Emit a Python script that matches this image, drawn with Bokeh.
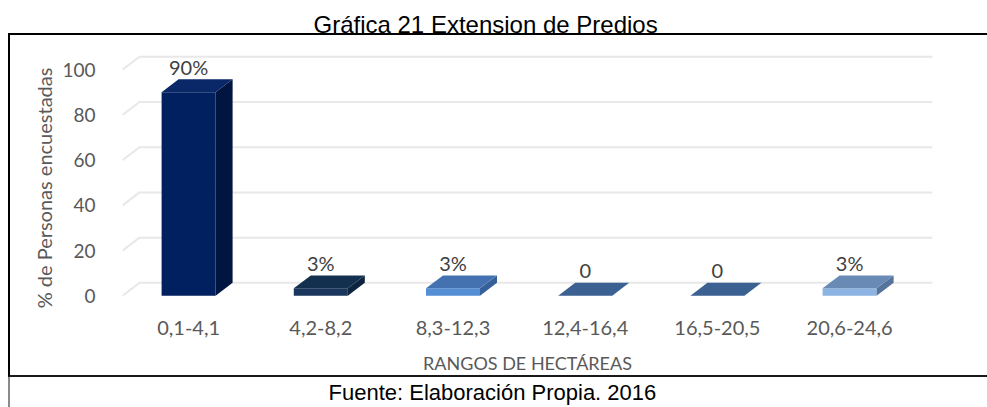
from bokeh.plotting import figure
from bokeh.models import Range1d, FixedTicker, Title, InlineStyleSheet
from bokeh.embed import file_html
from bokeh.resources import INLINE
from bokeh.core.properties import value

# ---- data ----
categories = ["0,1-4,1", "4,2-8,2", "8,3-12,3", "12,4-16,4", "16,5-20,5", "20,6-24,6"]
values = [90, 3.3, 3.3, 0, 0, 3.3]
value_labels = ["90%", "3%", "3%", "0", "0", "3%"]
y_ticks = [0, 20, 40, 60, 80, 100]
front_colors = ["#002060", "#1a365c", "#558ed5", "#3a6191", "#3a6191", "#8db3e2"]
top_colors = ["#0a2767", "#14304f", "#4472b0", "#3a6191", "#3a6191", "#6a8ab6"]
side_colors = ["#001540", "#0e2340", "#36609a", "#3a6191", "#3a6191", "#55739b"]

title_text = "Gráfica 21 Extension de Predios"
footer_text = "Fuente: Elaboración Propia. 2016"
y_title = "% de Personas encuestadas"
x_title = "RANGOS DE HECTÁREAS"

# ---- geometry ----
W, H = 987, 407
ML, MR, MT, MB = 122, 55, 50, 81
frame_w = W - ML - MR
frame_h = H - MT - MB
x0, x1 = -0.5, 5.627
y1 = 108.5
pxy = 253 / 111.5                 # pixels per percentage unit
y0 = y1 - frame_h / pxy
pxx = frame_w / (x1 - x0)
bw = 54 / pxx          # bar front width
dx = 17 / pxx          # depth offset x
dy = 13 / pxy          # depth offset y

p = figure(width=W, height=H, output_backend="svg", toolbar_location=None,
           x_range=Range1d(x0, x1), y_range=Range1d(y0, y1),
           min_border_left=ML, min_border_right=MR, min_border_top=MT, min_border_bottom=MB)
p.outline_line_color = None
p.grid.visible = False
p.background_fill_color = "white"

# title and footer
p.title = Title(text=title_text, align="left", offset=191, vertical_align="top", standoff=21,
                text_font="Liberation Sans", text_font_size="24px", text_font_style="normal",
                text_line_height=0.9, text_color="#000000")
p.add_layout(Title(text=footer_text, align="left", offset=206, vertical_align="middle", standoff=4,
                   text_font="Liberation Sans", text_font_size="22px", text_font_style="normal",
                   text_color="#000000"), "below")

# back-wall gridlines with floor diagonal
gx = [[x0, x0 + dx, len(categories) - 0.5 + dx] for t in y_ticks]
gy = [[t, t + dy, t + dy] for t in y_ticks]
p.multi_line(gx, gy, line_color="#e8e8e8", line_width=2)

# 3D bars
for i, v in enumerate(values):
    l, r = i - bw / 2, i + bw / 2
    if v > 0:
        p.patch([l, r, r, l], [0, 0, v, v], fill_color=front_colors[i], line_color=None)
        p.patch([r, r + dx, r + dx, r], [0, dy, v + dy, v], fill_color=side_colors[i], line_color=None)
    p.patch([l, r, r + dx, l + dx], [v, v, v + dy, v + dy], fill_color=top_colors[i], line_color=None)

# value labels
p.text(x=list(range(len(categories))), y=[v + dy for v in values], text=value_labels,
       text_align="center", text_baseline="middle", y_offset=-12,
       text_font=value("Lato"), text_font_size="20px", text_color="#404040")

# axes
p.yaxis.ticker = FixedTicker(ticks=y_ticks)
p.yaxis.axis_line_color = None
p.yaxis.major_tick_line_color = None
p.yaxis.minor_tick_line_color = None
p.yaxis.major_label_standoff = 21
p.yaxis.major_label_text_font = "Lato"
p.yaxis.major_label_text_font_size = "19px"
p.yaxis.major_label_text_color = "#595959"
p.yaxis.axis_label = y_title
p.yaxis.axis_label_text_font = "Lato"
p.yaxis.axis_label_text_font_style = "normal"
p.yaxis.axis_label_text_font_size = "20px"
p.yaxis.axis_label_text_color = "#595959"
p.yaxis.axis_label_standoff = 3

p.xaxis.ticker = FixedTicker(ticks=list(range(len(categories))))
p.xaxis.major_label_overrides = {i: c for i, c in enumerate(categories)}
p.xaxis.axis_line_color = None
p.xaxis.major_tick_line_color = None
p.xaxis.minor_tick_line_color = None
p.xaxis.major_label_standoff = 315 - (H - MB)
p.xaxis.major_label_text_font = "Lato"
p.xaxis.major_label_text_font_size = "20px"
p.xaxis.major_label_text_color = "#595959"
p.xaxis.axis_label = x_title
p.xaxis.axis_label_text_font = "Lato"
p.xaxis.axis_label_text_font_style = "normal"
p.xaxis.axis_label_text_font_size = "18px"
p.xaxis.axis_label_text_color = "#595959"
p.xaxis.axis_label_standoff = 14

# outer frame lines (decoration, drawn with CSS)
p.stylesheets = [InlineStyleSheet(css="""
:host { position: relative; }
:host::after { content: ""; position: absolute; left: 8px; top: 33px; width: 979px; height: 344px;
  border-left: 2px solid #000; border-top: 2px solid #000; border-bottom: 2px solid #1a1a1a;
  box-sizing: border-box; pointer-events: none; }
:host::before { content: ""; position: absolute; left: 8px; top: 377px; width: 2px; height: 30px;
  background: #8a8a8a; pointer-events: none; z-index: 2; }
""")]

open("out.html", "w").write(file_html(p, INLINE))
